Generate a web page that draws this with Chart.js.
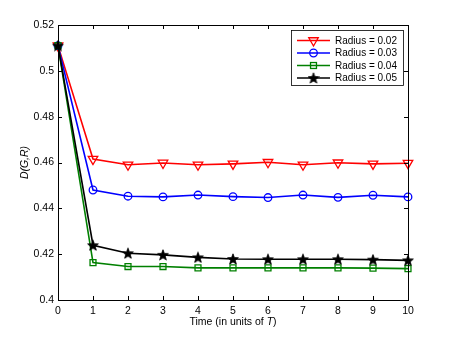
<!DOCTYPE html>
<html>
<head>
<meta charset="utf-8">
<script src="https://cdn.jsdelivr.net/npm/chart.js@4/dist/chart.umd.min.js"></script>
<style>
html,body{margin:0;padding:0;background:#fff;}
canvas{display:block;}
</style>
</head>
<body>
<canvas id="c" width="450" height="338"></canvas>
<script>
const times = [0, 1, 2, 3, 4, 5, 6, 7, 8, 9, 10];
const radius002 = [0.511, 0.4615, 0.4590, 0.4598, 0.4590, 0.4594, 0.4601, 0.4590, 0.4599, 0.4594, 0.4597];
const radius003 = [0.511, 0.4480, 0.4453, 0.4450, 0.4458, 0.4451, 0.4447, 0.4458, 0.4448, 0.4457, 0.4450];
const radius004 = [0.511, 0.4163, 0.4146, 0.4146, 0.4140, 0.4140, 0.4140, 0.4140, 0.4140, 0.4139, 0.4137];
const radius005 = [0.511, 0.4239, 0.4204, 0.4197, 0.4186, 0.4179, 0.4178, 0.4178, 0.4178, 0.4176, 0.4173];
const seriesLabels = ['Radius = 0.02', 'Radius = 0.03', 'Radius = 0.04', 'Radius = 0.05'];
const xTicks = [0, 1, 2, 3, 4, 5, 6, 7, 8, 9, 10];
const yTicks = [0.4, 0.42, 0.44, 0.46, 0.48, 0.5, 0.52];
const yTickLabels = ['0.4', '0.42', '0.44', '0.46', '0.48', '0.5', '0.52'];
const xTitleParts = ['Time (in units of ', 'T', ')'];
const yTitle = 'D(G,R)';

const FONT = '"Liberation Sans", Arial, Helvetica, sans-serif';

// five-pointed star marker image
function makeStar(size) {
  const c = document.createElement('canvas');
  c.width = size; c.height = size;
  const g = c.getContext('2d');
  const cx = size / 2, cy = size / 2 + 0.5, R = size / 2 - 0.3, r = R * 0.42;
  g.beginPath();
  for (let i = 0; i < 10; i++) {
    const a = -Math.PI / 2 + i * Math.PI / 5;
    const rr = i % 2 === 0 ? R : r;
    const px = cx + rr * Math.cos(a), py = cy + rr * Math.sin(a);
    if (i === 0) g.moveTo(px, py); else g.lineTo(px, py);
  }
  g.closePath();
  g.fillStyle = '#000';
  g.fill();
  g.strokeStyle = '#000';
  g.lineWidth = 0.8;
  g.stroke();
  return c;
}
const starImg = makeStar(12);

function mk(vals) { return times.map((t, i) => ({x: t, y: vals[i]})); }

const datasets = [
  {label: seriesLabels[0], data: mk(radius002), borderColor: '#ff0000', backgroundColor: 'rgba(0,0,0,0)',
   pointStyle: 'triangle', pointRotation: 180, pointRadius: 5.5, pointBorderWidth: 1.3, order: 4},
  {label: seriesLabels[1], data: mk(radius003), borderColor: '#0000ff', backgroundColor: 'rgba(0,0,0,0)',
   pointStyle: 'circle', pointRadius: 3.8, pointBorderWidth: 1.3, order: 3},
  {label: seriesLabels[2], data: mk(radius004), borderColor: '#008000', backgroundColor: 'rgba(0,0,0,0)',
   pointStyle: 'rect', pointRadius: 4.2, pointBorderWidth: 1.3, order: 2},
  {label: seriesLabels[3], data: mk(radius005), borderColor: '#000000', backgroundColor: '#000000',
   pointStyle: starImg, pointRadius: 6, pointBorderWidth: 1, order: 1}
];
datasets.forEach(d => {
  d.borderWidth = 1.6;
  d.tension = 0;
  d.fill = false;
  d.clip = false;
  d.pointHoverRadius = d.pointRadius;
});

function drawMarker(ctx, ds, x, y) {
  ctx.save();
  ctx.strokeStyle = ds.borderColor;
  ctx.lineWidth = ds.pointBorderWidth;
  const r = ds.pointRadius;
  if (ds.pointStyle === 'triangle') {
    ctx.beginPath();
    for (let i = 0; i < 3; i++) {
      const a = Math.PI / 2 + i * 2 * Math.PI / 3;
      const px = x + r * Math.cos(a), py = y + r * Math.sin(a);
      if (i === 0) ctx.moveTo(px, py); else ctx.lineTo(px, py);
    }
    ctx.closePath();
    ctx.stroke();
  } else if (ds.pointStyle === 'circle') {
    ctx.beginPath(); ctx.arc(x, y, r, 0, Math.PI * 2); ctx.stroke();
  } else if (ds.pointStyle === 'rect') {
    const s = r * Math.SQRT1_2;
    ctx.strokeRect(x - s, y - s, 2 * s, 2 * s);
  } else {
    ctx.drawImage(ds.pointStyle, x - ds.pointStyle.width / 2, y - ds.pointStyle.height / 2);
  }
  ctx.restore();
}

const framePlugin = {
  id: 'frame',
  afterDraw(chart) {
    const ctx = chart.ctx;
    const a = chart.chartArea;
    const xs = chart.scales.x, ys = chart.scales.y;
    ctx.save();
    ctx.strokeStyle = '#000';
    ctx.lineWidth = 1;
    ctx.strokeRect(Math.round(a.left) + 0.5, Math.round(a.top) + 0.5,
      Math.round(a.right - a.left), Math.round(a.bottom - a.top));
    const tl = 4;
    ctx.beginPath();
    xTicks.forEach(v => {
      const px = Math.round(xs.getPixelForValue(v)) + 0.5;
      ctx.moveTo(px, a.bottom); ctx.lineTo(px, a.bottom - tl);
      ctx.moveTo(px, a.top); ctx.lineTo(px, a.top + tl);
    });
    yTicks.forEach(v => {
      const py = Math.round(ys.getPixelForValue(v)) + 0.5;
      ctx.moveTo(a.left, py); ctx.lineTo(a.left + tl, py);
      ctx.moveTo(a.right, py); ctx.lineTo(a.right - tl, py);
    });
    ctx.stroke();

    // x title with italic T
    ctx.fillStyle = '#000';
    ctx.textBaseline = 'middle';
    const normal = '10.5px ' + FONT, ital = 'italic 10.5px ' + FONT;
    const fonts = [normal, ital, normal];
    let total = 0;
    const widths = xTitleParts.map((p, i) => { ctx.font = fonts[i]; const w = ctx.measureText(p).width; total += w; return w; });
    let tx = (a.left + a.right) / 2 - total / 2;
    const ty = 322;
    xTitleParts.forEach((p, i) => { ctx.font = fonts[i]; ctx.textAlign = 'left'; ctx.fillText(p, tx, ty); tx += widths[i]; });

    // legend
    const bx = 291.5, by = 30.5, bw = 112, bh = 55;
    ctx.fillStyle = '#fff';
    ctx.fillRect(bx, by, bw, bh);
    ctx.strokeStyle = '#000';
    ctx.lineWidth = 0.8;
    ctx.strokeRect(bx, by, bw, bh);
    ctx.font = '10px ' + FONT;
    ctx.textAlign = 'left';
    ctx.textBaseline = 'middle';
    datasets.forEach((ds, i) => {
      const y = 40.5 + i * 12.5;
      ctx.strokeStyle = ds.borderColor;
      ctx.lineWidth = ds.borderWidth;
      ctx.beginPath(); ctx.moveTo(297, y); ctx.lineTo(330, y); ctx.stroke();
      drawMarker(ctx, ds, 313.5, y);
      ctx.fillStyle = '#000';
      ctx.fillText(ds.label, 335, y + 0.5);
    });
    ctx.restore();
  }
};

new Chart(document.getElementById('c'), {
  type: 'line',
  data: {datasets},
  options: {
    responsive: false,
    animation: false,
    events: [],
    layout: {padding: {left: 0, top: 25, right: 42, bottom: 0}},
    plugins: {legend: {display: false}, tooltip: {enabled: false}},
    scales: {
      x: {
        type: 'linear', min: 0, max: 10,
        afterBuildTicks: s => { s.ticks = xTicks.map(v => ({value: v})); },
        afterFit: s => { s.height = 38; },
        grid: {display: false, drawTicks: false},
        border: {display: false},
        ticks: {color: '#000', padding: 5, font: {family: FONT, size: 10.5}, maxRotation: 0,
          callback: v => String(v)}
      },
      y: {
        type: 'linear', min: 0.4, max: 0.52,
        afterBuildTicks: s => { s.ticks = yTicks.map(v => ({value: v})); },
        afterFit: s => { s.width = 58; },
        grid: {display: false, drawTicks: false},
        border: {display: false},
        ticks: {color: '#000', padding: 4, font: {family: FONT, size: 10.5},
          callback: (v) => { const i = yTicks.findIndex(t => Math.abs(t - v) < 1e-9); return i >= 0 ? yTickLabels[i] : ''; }},
        title: {display: true, text: yTitle, color: '#000', padding: {top: 19, bottom: 0},
          font: {family: FONT, size: 10.5, style: 'italic'}}
      }
    }
  },
  plugins: [framePlugin]
});
</script>
</body>
</html>
